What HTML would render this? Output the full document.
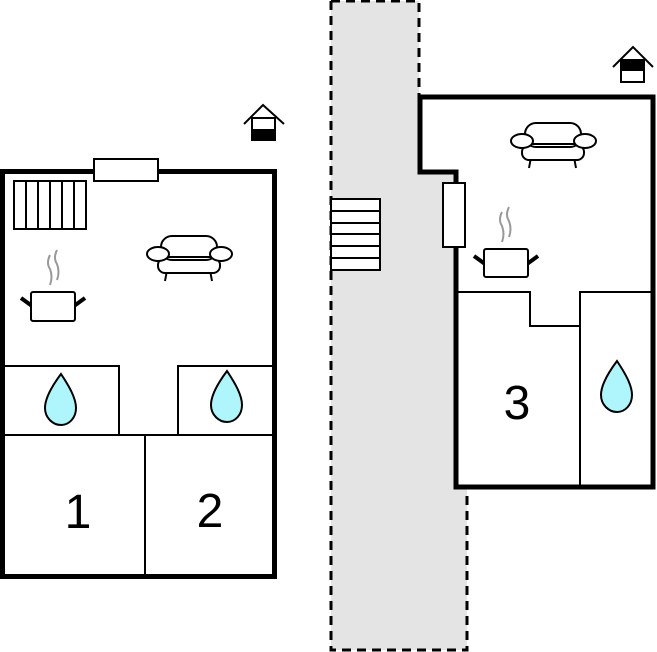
<!DOCTYPE html>
<html><head><style>body{margin:0;background:#fff}svg{display:block}</style></head><body>
<svg width="657" height="652" viewBox="0 0 657 652" xmlns="http://www.w3.org/2000/svg">
<defs>
<g id="sofa" stroke="#000" stroke-width="2" fill="#fff">
<path d="M168 265 l-3 16 M209 265 l3 16"/>
<rect x="158" y="258" width="62" height="15" rx="7"/>
<rect x="161" y="236" width="56" height="24" rx="11"/>
<line x1="165" y1="257" x2="213" y2="257"/>
<ellipse cx="158" cy="254" rx="11" ry="7"/>
<ellipse cx="221" cy="254" rx="11" ry="7"/>
</g>
</defs>
<!-- grey path -->
<path d="M331 1 H419 V95 H455 V290 H467 V650 H331 Z" fill="#e4e4e4"/>
<g stroke="#000" stroke-width="3" stroke-dasharray="9,6" fill="none">
<path d="M331 1 H419 V95"/>
<path d="M331 1 V650 H467 V490"/>
</g>
<g stroke="#000" stroke-width="2" fill="#fff">
<rect x="331" y="199" width="49" height="71"/>
<path d="M331 211 H380 M331 223 H380 M331 234 H380 M331 246 H380 M331 258 H380"/>
</g>
<!-- left building -->
<rect x="2.5" y="171.5" width="272" height="405" fill="#fff" stroke="#000" stroke-width="5"/>
<g stroke="#000" stroke-width="2" fill="none">
<path d="M4 366 H119 V435 M178 435 V366 H273 M4 435 H273 M145 435 V575"/>
</g>
<rect x="94" y="159" width="64" height="22" fill="#fff" stroke="#000" stroke-width="2"/>
<g stroke="#000" stroke-width="2" fill="#fff">
<rect x="14" y="181" width="72" height="48"/>
<path d="M26 181V229 M38 181V229 M50 181V229 M62 181V229 M74 181V229"/>
</g>
<use href="#sofa"/>
<g stroke="#000" stroke-width="2" fill="#fff">
<path d="M21 298 l11 8 M85 298 l-11 8" stroke-width="4"/>
<rect x="31" y="292" width="44" height="29" rx="2"/>
</g>
<g stroke="#999" stroke-width="2" fill="none">
<path d="M50 255 q-4 8 0 14 q3 8 0 16"/>
<path d="M57 250 q-4 8 0 14 q3 8 0 16"/>
</g>
<g stroke="#000" stroke-width="2" fill="#fff">
<path d="M244 124 L263 105 L284 124" fill="none"/>
<rect x="252" y="118" width="23" height="22"/>
<rect x="252" y="130" width="23" height="10" fill="#000"/>
</g>
<!-- right building -->
<path d="M420 97 H653 V487 H456 V172 H420 Z" fill="#fff" stroke="#000" stroke-width="5"/>
<g stroke="#000" stroke-width="2" fill="none">
<path d="M457 292 H530 V326 H580 V292 H651 M580 292 V486"/>
</g>
<rect x="443" y="183" width="22" height="64" fill="#fff" stroke="#000" stroke-width="2"/>
<use href="#sofa" transform="translate(364 -113)"/>
<g stroke="#000" stroke-width="2" fill="#fff">
<path d="M474 256 l11 8 M538 256 l-11 8" stroke-width="4"/>
<rect x="484" y="249" width="44" height="28" rx="2"/>
</g>
<g stroke="#999" stroke-width="2" fill="none">
<path d="M502 212 q-4 8 0 14 q3 8 0 16"/>
<path d="M509 207 q-4 8 0 14 q3 8 0 16"/>
</g>
<g stroke="#000" stroke-width="2" fill="#fff">
<path d="M613 67 L633 47 L653 67" fill="none"/>
<rect x="621" y="60" width="23" height="22"/>
<rect x="621" y="60" width="23" height="10" fill="#000"/>
</g>
<!-- drops -->
<g stroke="#000" stroke-width="2" fill="#aef6fb">
<path d="M61 374 C52 386 45 398 45 408 C45 418 53 425 61 425 C69 425 76 418 76 408 C76 398 69 386 61 374Z"/>
<path d="M227 371 C218 383 211 395 211 405 C211 415 219 422 227 422 C235 422 242 415 242 405 C242 395 235 383 227 371Z"/>
<path d="M617 361 C608 373 601 385 601 395 C601 405 609 412 617 412 C625 412 632 405 632 395 C632 385 625 373 617 361Z"/>
</g>
<g font-family="Liberation Sans, sans-serif" font-size="48" text-anchor="middle">
<text x="78" y="528">1</text>
<text x="210" y="527">2</text>
<text x="517" y="419">3</text>
</g>
</svg>
</body></html>
